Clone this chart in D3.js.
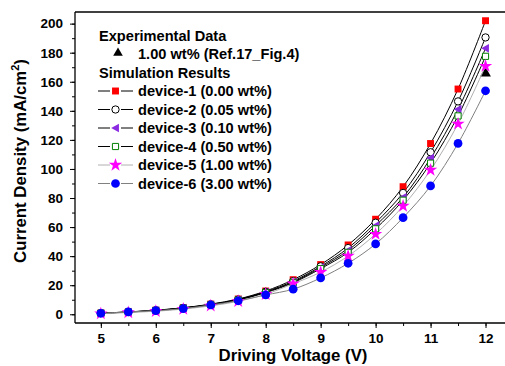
<!DOCTYPE html>
<html>
<head>
<meta charset="utf-8">
<script src="https://cdn.jsdelivr.net/npm/d3@7"></script>
<style>
  body { margin: 0; background: #fff; }
  text { font-family: "Liberation Sans", Arial, sans-serif; font-weight: bold; fill: #000; }
</style>
</head>
<body>
<div id="chart"></div>
<script>
// ---- datos ----
const voltage = [5, 5.5, 6, 6.5, 7, 7.5, 8, 8.5, 9, 9.5, 10, 10.5, 11, 11.5, 12];

const dev1 = [0.8, 1.6, 2.8, 4.5, 7.0, 10.5, 16.0, 23.8, 34.2, 47.7, 65.4, 87.8, 117.5, 155.0, 202.0];
const dev2 = [0.8, 1.6, 2.7, 4.4, 6.8, 10.2, 15.5, 22.8, 33.0, 45.6, 63.0, 83.5, 111.5, 146.5, 190.5];
const dev3 = [0.7, 1.5, 2.6, 4.3, 6.6, 10.0, 15.2, 22.2, 32.2, 44.0, 61.0, 80.5, 107.5, 141.0, 183.0];
const dev4 = [0.7, 1.5, 2.6, 4.2, 6.5, 9.8, 14.9, 21.7, 31.4, 42.6, 58.8, 78.5, 104.0, 136.5, 177.5];
const dev5 = [0.4, 1.2, 2.1, 3.6, 5.8, 8.9, 13.8, 21.0, 29.0, 40.1, 55.2, 74.5, 99.3, 131.0, 170.8];
const dev6 = [0.7, 1.6, 2.5, 3.9, 6.4, 9.3, 13.3, 17.3, 25.0, 35.1, 48.4, 66.5, 88.3, 117.6, 153.8];

const expVoltage = [12];
const expValues = [166.5];

const seriesNames = [
  "device-1 (0.00 wt%)", "device-2 (0.05 wt%)", "device-3 (0.10 wt%)",
  "device-4 (0.50 wt%)", "device-5 (1.00 wt%)", "device-6 (3.00 wt%)"
];
const xTicks = [5, 6, 7, 8, 9, 10, 11, 12];
const yTicks = [0, 20, 40, 60, 80, 100, 120, 140, 160, 180, 200];

// ---- estilos de cada serie ----
const series = [
  { values: dev1, line: "#000", symbol: d3.symbolSquare, size: 48, fill: "#ff0000", stroke: "none" },
  { values: dev2, line: "#000", symbol: d3.symbolCircle, size: 42, fill: "#fff", stroke: "#000" },
  { values: dev3, line: "#000", symbol: "triLeft", size: 48, fill: "#8a2be2", stroke: "none" },
  { values: dev4, line: "#000", symbol: d3.symbolSquare, size: 38, fill: "#fff", stroke: "#008000" },
  { values: dev5, line: "#b0b0b0", symbol: d3.symbolStar, size: 55, fill: "#ff00ff", stroke: "none" },
  { values: dev6, line: "#808080", symbol: d3.symbolCircle, size: 60, fill: "#0000ff", stroke: "none" }
];

const width = 505, height = 366;

const svg = d3.select("#chart").append("svg")
  .attr("width", width)
  .attr("height", height);

const x = d3.scaleLinear().domain([4.53, 12.5]).range([75, 513]);
const y = d3.scaleLinear().domain([-6, 208]).range([323, 12]);

// marco
svg.append("line").attr("x1", 75).attr("x2", width).attr("y1", 12).attr("y2", 12)
  .attr("stroke", "#000").attr("stroke-width", 1.3);

// eje X
const xMinor = d3.range(5, 12.51, 0.5);
svg.append("g")
  .attr("transform", `translate(0,${y.range()[0]})`)
  .call(d3.axisBottom(x).tickValues(xMinor).tickSize(3).tickFormat(""))
  .call(g => g.select(".domain").remove());
const gx = svg.append("g")
  .attr("transform", `translate(0,${y.range()[0]})`)
  .call(d3.axisBottom(x).tickValues(xTicks).tickSize(5).tickPadding(5).tickFormat(d3.format("d")));
gx.select(".domain").attr("d", `M75,0H${width}`).attr("stroke-width", 1.3);
gx.selectAll("text").style("font-size", "13.5px");

// eje Y
const yMinor = d3.range(0, 201, 10);
svg.append("g")
  .attr("transform", `translate(${x.range()[0]},0)`)
  .call(d3.axisLeft(y).tickValues(yMinor).tickSize(3).tickFormat(""))
  .call(g => g.select(".domain").remove());
const gy = svg.append("g")
  .attr("transform", `translate(${x.range()[0]},0)`)
  .call(d3.axisLeft(y).tickValues(yTicks).tickSize(5).tickPadding(7));
gy.select(".domain").attr("d", "M0,12V323").attr("stroke-width", 1.3);
gy.selectAll("text").style("font-size", "13.5px");

// títulos de ejes
svg.append("text")
  .attr("x", 293).attr("y", 361)
  .attr("text-anchor", "middle")
  .style("font-size", "16.8px")
  .text("Driving Voltage (V)");

const yTitle = svg.append("text")
  .attr("transform", "translate(26,161) rotate(-90)")
  .attr("text-anchor", "middle")
  .style("font-size", "16.8px");
yTitle.append("tspan").text("Current Density (mA/cm");
yTitle.append("tspan").attr("dy", -7).style("font-size", "11px").text("2");
yTitle.append("tspan").attr("dy", 7).text(")");

// símbolos
function symbolPath(s) {
  if (s.symbol === "triLeft") {
    const r = Math.sqrt(s.size) * 0.62;
    return `M${-r},0L${r * 0.8},${-r}L${r * 0.8},${r}Z`;
  }
  return d3.symbol().type(s.symbol).size(s.size)();
}

const line = d3.line()
  .x((d, i) => x(voltage[i]))
  .y(d => y(d))
  .curve(d3.curveCatmullRom);

// datos experimentales
svg.selectAll(".exp")
  .data(expValues)
  .join("path")
  .attr("class", "exp")
  .attr("d", d3.symbol().type(d3.symbolTriangle).size(50)())
  .attr("transform", (d, i) => `translate(${x(expVoltage[i])},${y(d) + 1})`)
  .attr("fill", "#000");

// curvas
series.forEach(s => {
  svg.append("path")
    .datum(s.values)
    .attr("d", line)
    .attr("fill", "none")
    .attr("stroke", s.line)
    .attr("stroke-width", 1);
});

series.forEach(s => {
  svg.append("g").selectAll("path")
    .data(s.values)
    .join("path")
    .attr("d", symbolPath(s))
    .attr("transform", (d, i) => `translate(${x(voltage[i])},${y(d)})`)
    .attr("fill", s.fill)
    .attr("stroke", s.stroke)
    .attr("stroke-width", 1);
});

// leyenda
const fs = "14.6px";
const legend = svg.append("g");
legend.append("text").attr("x", 99).attr("y", 40.5).style("font-size", fs).text("Experimental Data");
legend.append("path")
  .attr("d", d3.symbol().type(d3.symbolTriangle).size(40)())
  .attr("transform", "translate(118,53)")
  .attr("fill", "#000");
legend.append("text").attr("x", 138).attr("y", 58.5).style("font-size", fs).text("1.00 wt% (Ref.17_Fig.4)");
legend.append("text").attr("x", 99).attr("y", 77.5).style("font-size", fs).text("Simulation Results");

series.forEach((s, i) => {
  const cy = 91 + i * 18.5;
  legend.append("line").attr("x1", 98).attr("x2", 110).attr("y1", cy).attr("y2", cy)
    .attr("stroke", s.line).attr("stroke-width", 1);
  legend.append("line").attr("x1", 121).attr("x2", 133).attr("y1", cy).attr("y2", cy)
    .attr("stroke", s.line).attr("stroke-width", 1);
  legend.append("path")
    .attr("d", symbolPath(s))
    .attr("transform", `translate(115.5,${cy})`)
    .attr("fill", s.fill)
    .attr("stroke", s.stroke);
  legend.append("text").attr("x", 138).attr("y", cy + 5)
    .style("font-size", fs)
    .text(seriesNames[i]);
});
</script>
</body>
</html>
